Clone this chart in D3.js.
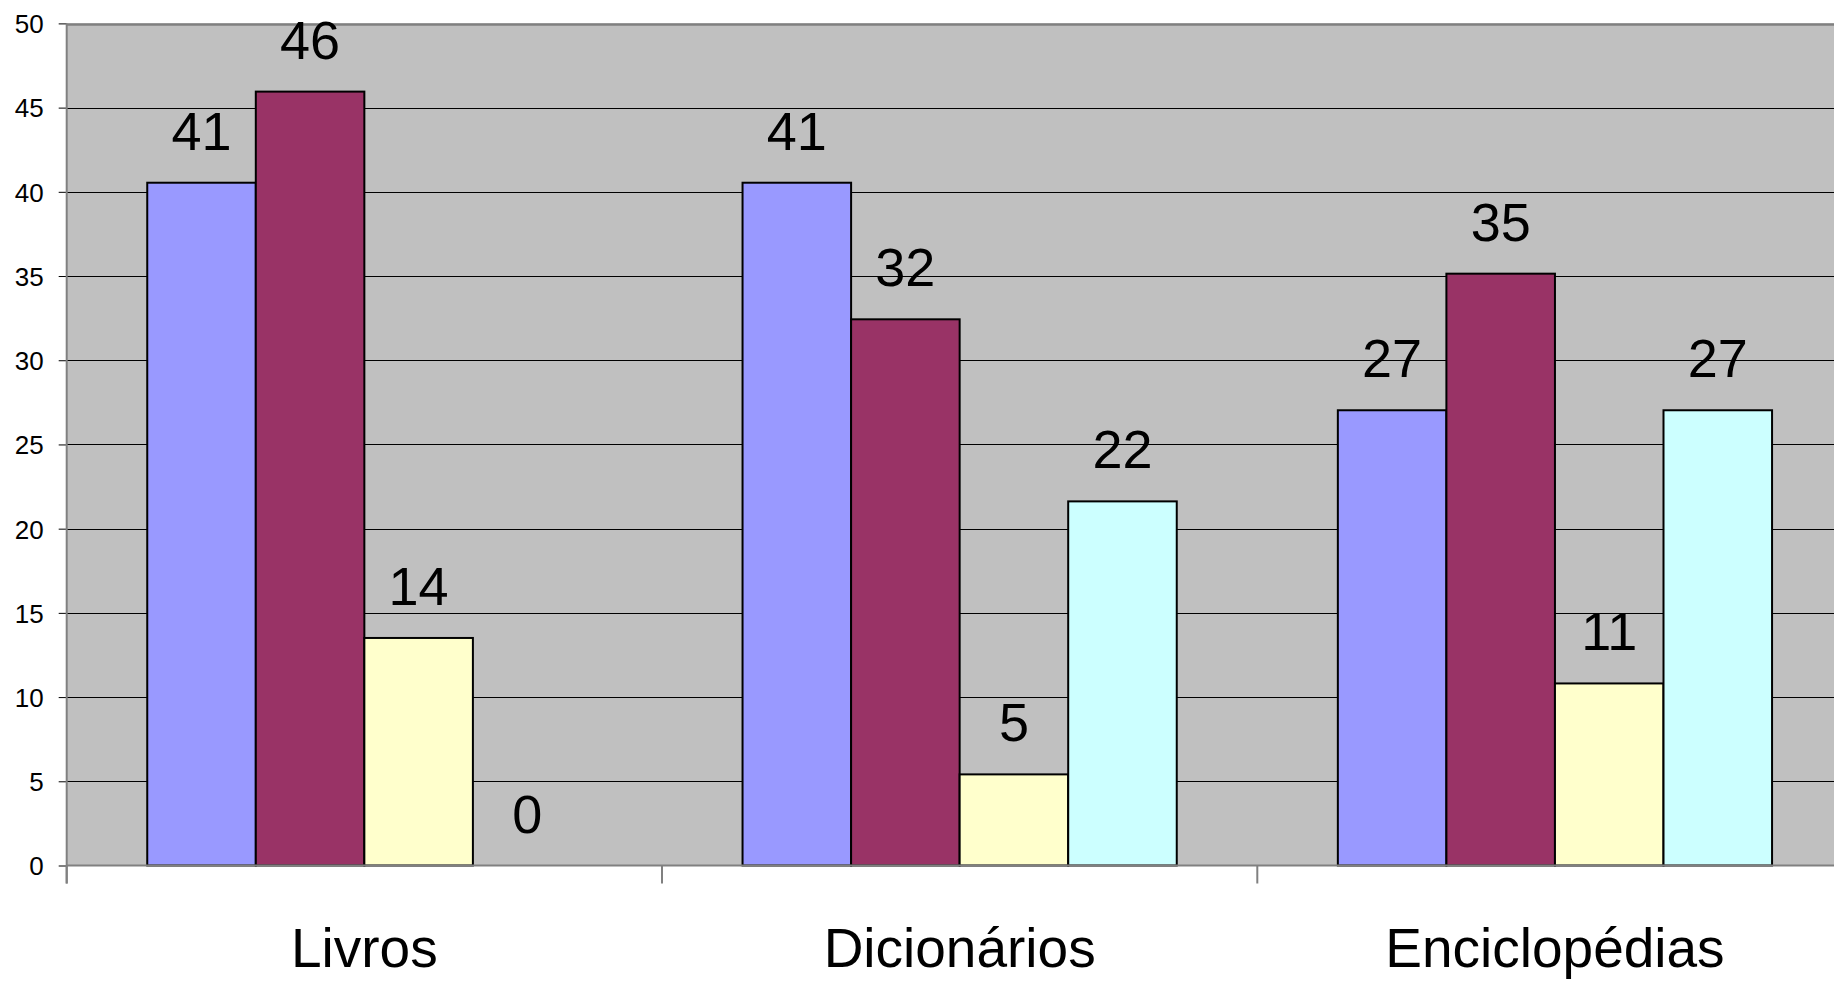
<!DOCTYPE html>
<html>
<head>
<meta charset="utf-8">
<script src="https://cdn.jsdelivr.net/npm/d3@7"></script>
<style>
  html, body { margin: 0; padding: 0; background: #fff; }
  svg { display: block; }
  text { font-family: "Liberation Sans", Arial, Helvetica, sans-serif; fill: #000; }
</style>
</head>
<body>
<svg id="chart" width="1834" height="981"></svg>
<script>
// ---- Data ----
const categories = ["Livros", "Dicionários", "Enciclopédias"];
const seriesNames = ["Série 1", "Série 2", "Série 3", "Série 4"];
const seriesColors = ["#9999FF", "#993366", "#FFFFCC", "#CCFFFF"];
// values per series, in category order
const serie1 = [40.54, 40.54, 27.03];
const serie2 = [45.95, 32.43, 35.14];
const serie3 = [13.51, 5.41, 10.81];
const serie4 = [0, 21.62, 27.03];
const yTicks = [0, 5, 10, 15, 20, 25, 30, 35, 40, 45, 50];

const seriesValues = [serie1, serie2, serie3, serie4];

// ---- Layout ----
const W = 1834, H = 981;
const plotLeft = 66.7, plotTop = 23.4, plotBottom = 865.5;
const catStep = 595.3;
const plotRight = plotLeft + catStep * categories.length;

const svg = d3.select("#chart");

const x0 = d3.scaleBand()
  .domain(categories)
  .range([plotLeft, plotRight])
  .paddingInner(0).paddingOuter(0);

const x1 = d3.scaleBand()
  .domain(seriesNames)
  .range([0, x0.bandwidth()])
  .paddingInner(0)
  .paddingOuter(0.742);

const y = d3.scaleLinear().domain([0, 50]).range([plotBottom, plotTop]);

// plot background
svg.append("rect")
  .attr("x", plotLeft).attr("y", plotTop)
  .attr("width", plotRight - plotLeft).attr("height", plotBottom - plotTop)
  .attr("fill", "#C0C0C0");

// gridlines
svg.append("g")
  .selectAll("line")
  .data(yTicks.filter(t => t > 0 && t < 50))
  .join("line")
  .attr("x1", plotLeft).attr("x2", plotRight)
  .attr("y1", d => Math.round(y(d)) + 0.5).attr("y2", d => Math.round(y(d)) + 0.5)
  .attr("stroke", "#000").attr("stroke-width", 1);

// top border line (at 50)
svg.append("line")
  .attr("x1", plotLeft).attr("x2", plotRight)
  .attr("y1", y(50) + 1).attr("y2", y(50) + 1)
  .attr("stroke", "#808080").attr("stroke-width", 2.5);

// bars
const data = [];
categories.forEach((c, ci) => {
  seriesNames.forEach((s, si) => {
    data.push({cat: c, ser: s, si: si, v: seriesValues[si][ci]});
  });
});

const bars = svg.append("g");
bars.selectAll("rect")
  .data(data.filter(d => d.v > 0))
  .join("rect")
  .attr("x", d => x0(d.cat) + x1(d.ser))
  .attr("y", d => y(d.v))
  .attr("width", x1.bandwidth())
  .attr("height", d => y(0) - y(d.v))
  .attr("fill", d => seriesColors[d.si])
  .attr("stroke", "#000")
  .attr("stroke-width", 2);

// data labels
svg.append("g")
  .selectAll("text")
  .data(data)
  .join("text")
  .attr("x", d => x0(d.cat) + x1(d.ser) + x1.bandwidth() / 2)
  .attr("y", d => y(d.v) - 33)
  .attr("text-anchor", "middle")
  .attr("font-size", 54)
  .text(d => d3.format(".0f")(d.v));

// y axis
const yAxis = d3.axisLeft(y)
  .tickValues(yTicks)
  .tickSize(8)
  .tickPadding(15)
  .tickFormat(d3.format("d"));
const gy = svg.append("g")
  .attr("transform", `translate(${plotLeft},0)`)
  .call(yAxis);
gy.select(".domain").remove();
gy.selectAll(".tick line").attr("stroke", "#000").attr("stroke-width", 1);
gy.selectAll(".tick text")
  .attr("font-size", 26)
  .attr("font-family", "'Liberation Sans', Arial, sans-serif")
  .attr("fill", "#000")
  .attr("dy", "0.36em");

// left axis line (extends below baseline as first category tick)
svg.append("line")
  .attr("x1", plotLeft).attr("x2", plotLeft)
  .attr("y1", plotTop).attr("y2", plotBottom + 18)
  .attr("stroke", "#808080").attr("stroke-width", 2);

// baseline
svg.append("line")
  .attr("x1", plotLeft).attr("x2", plotRight)
  .attr("y1", plotBottom).attr("y2", plotBottom)
  .attr("stroke", "#808080").attr("stroke-width", 2);

// category ticks
svg.append("g")
  .selectAll("line")
  .data(categories)
  .join("line")
  .attr("x1", d => x0(d)).attr("x2", d => x0(d))
  .attr("y1", plotBottom).attr("y2", plotBottom + 18)
  .attr("stroke", "#808080").attr("stroke-width", 2);

// category labels
svg.append("g")
  .selectAll("text")
  .data(categories)
  .join("text")
  .attr("x", d => x0(d) + x0.bandwidth() / 2)
  .attr("y", 967)
  .attr("text-anchor", "middle")
  .attr("font-size", 55)
  .text(d => d);
</script>
</body>
</html>
